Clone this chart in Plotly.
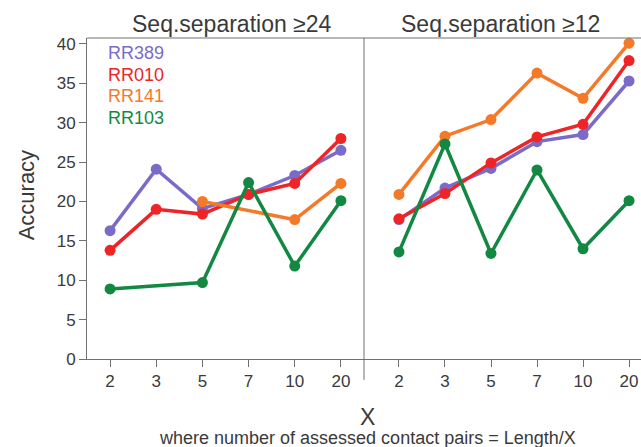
import plotly.graph_objects as go

x_labels = ["2", "3", "5", "7", "10", "20"]
series_names = ["RR389", "RR010", "RR141", "RR103"]
series_colors = ["#7b6bc9", "#ee2426", "#f47a2a", "#138843"]

# Seq.separation >= 24
left_rr389 = [16.3, 24.1, 19.1, 20.9, 23.3, 26.5]
left_rr010 = [13.8, 19.0, 18.4, 20.9, 22.3, 28.0]
left_rr141 = [None, None, 20.0, None, 17.7, 22.3]
left_rr103 = [8.9, None, 9.7, 22.4, 11.8, 20.1]

# Seq.separation >= 12
right_rr389 = [17.7, 21.7, 24.2, 27.6, 28.5, 35.3]
right_rr010 = [17.8, 21.0, 24.9, 28.2, 29.8, 37.9]
right_rr141 = [20.9, 28.3, 30.4, 36.3, 33.1, 40.1]
right_rr103 = [13.6, 27.3, 13.4, 24.0, 14.0, 20.1]

panel_titles = ["Seq.separation \u226524", "Seq.separation \u226512"]
y_ticks = [0, 5, 10, 15, 20, 25, 30, 35, 40]

FONT = "Liberation Sans, Arial, sans-serif"
TXT = "#3a3a3a"
AX = "#707070"

left = [left_rr389, left_rr010, left_rr141, left_rr103]
right = [right_rr389, right_rr010, right_rr141, right_rr103]

fig = go.Figure()
for vals, xa, ya in [(left, "x", "y"), (right, "x2", "y2")]:
    for name, color, v in zip(series_names, series_colors, vals):
        fig.add_trace(go.Scatter(
            x=x_labels, y=v, mode="lines+markers", name=name,
            xaxis=xa, yaxis=ya, connectgaps=True, showlegend=False,
            line=dict(color=color, width=3.5),
            marker=dict(color=color, size=11),
            cliponaxis=False,
        ))

axis_common = dict(showgrid=False, zeroline=False, ticks="outside", ticklen=7,
                   tickcolor=AX, tickwidth=1, showline=True, linecolor=AX, linewidth=1,
                   tickfont=dict(family=FONT, size=17, color=TXT), type="category")
fig.update_layout(
    width=641, height=447,
    margin=dict(l=87, r=0, t=38, b=88),
    paper_bgcolor="white", plot_bgcolor="white",
    xaxis=dict(domain=[0, 0.5], range=[-0.5, 5.5], **axis_common),
    xaxis2=dict(domain=[0.5, 1], range=[-0.76, 5.26], anchor="y2", **axis_common),
    yaxis=dict(range=[0, 40.76], tickvals=y_ticks, showgrid=False, zeroline=False,
               ticks="outside", ticklen=7, tickcolor=AX, showline=True, linecolor=AX,
               linewidth=1, tickfont=dict(family=FONT, size=17, color=TXT)),
    yaxis2=dict(range=[0, 40.76], anchor="x2", showticklabels=False, showgrid=False,
                zeroline=False, showline=False),
)

shapes = [
    dict(type="line", xref="paper", yref="paper", x0=0, x1=1, y0=1, y1=1,
         line=dict(color=AX, width=1)),
    dict(type="line", xref="paper", yref="paper", x0=0.5, x1=0.5, y0=-0.065, y1=1,
         line=dict(color=AX, width=1)),
]
fig.update_layout(shapes=shapes)

ann = []
for t, xc in zip(panel_titles, [0.262, 0.747]):
    ann.append(dict(text=t, x=xc, y=1.044, xref="paper", yref="paper",
                    xanchor="center", yanchor="middle", showarrow=False,
                    font=dict(family=FONT, size=23, color=TXT)))
for i, (name, color) in enumerate(zip(series_names, series_colors)):
    ann.append(dict(text=name, x=0.034, y=0.953 - i * 0.0676, xref="paper", yref="paper",
                    xanchor="left", yanchor="middle", showarrow=False,
                    font=dict(family=FONT, size=18, color=color)))
ann.append(dict(text="Accuracy", x=-0.11, y=0.51, xref="paper", yref="paper",
                textangle=-90, xanchor="center", yanchor="middle", showarrow=False,
                font=dict(family=FONT, size=22, color=TXT)))
ann.append(dict(text="X", x=0.507, y=-0.18, xref="paper", yref="paper",
                xanchor="center", yanchor="middle", showarrow=False,
                font=dict(family=FONT, size=23, color=TXT)))
ann.append(dict(text="where number of assessed contact pairs = Length/X", x=0.506, y=-0.246,
                xref="paper", yref="paper", xanchor="center", yanchor="middle",
                showarrow=False, font=dict(family=FONT, size=18, color=TXT)))
fig.update_layout(annotations=ann)

fig.write_html("out.html")
